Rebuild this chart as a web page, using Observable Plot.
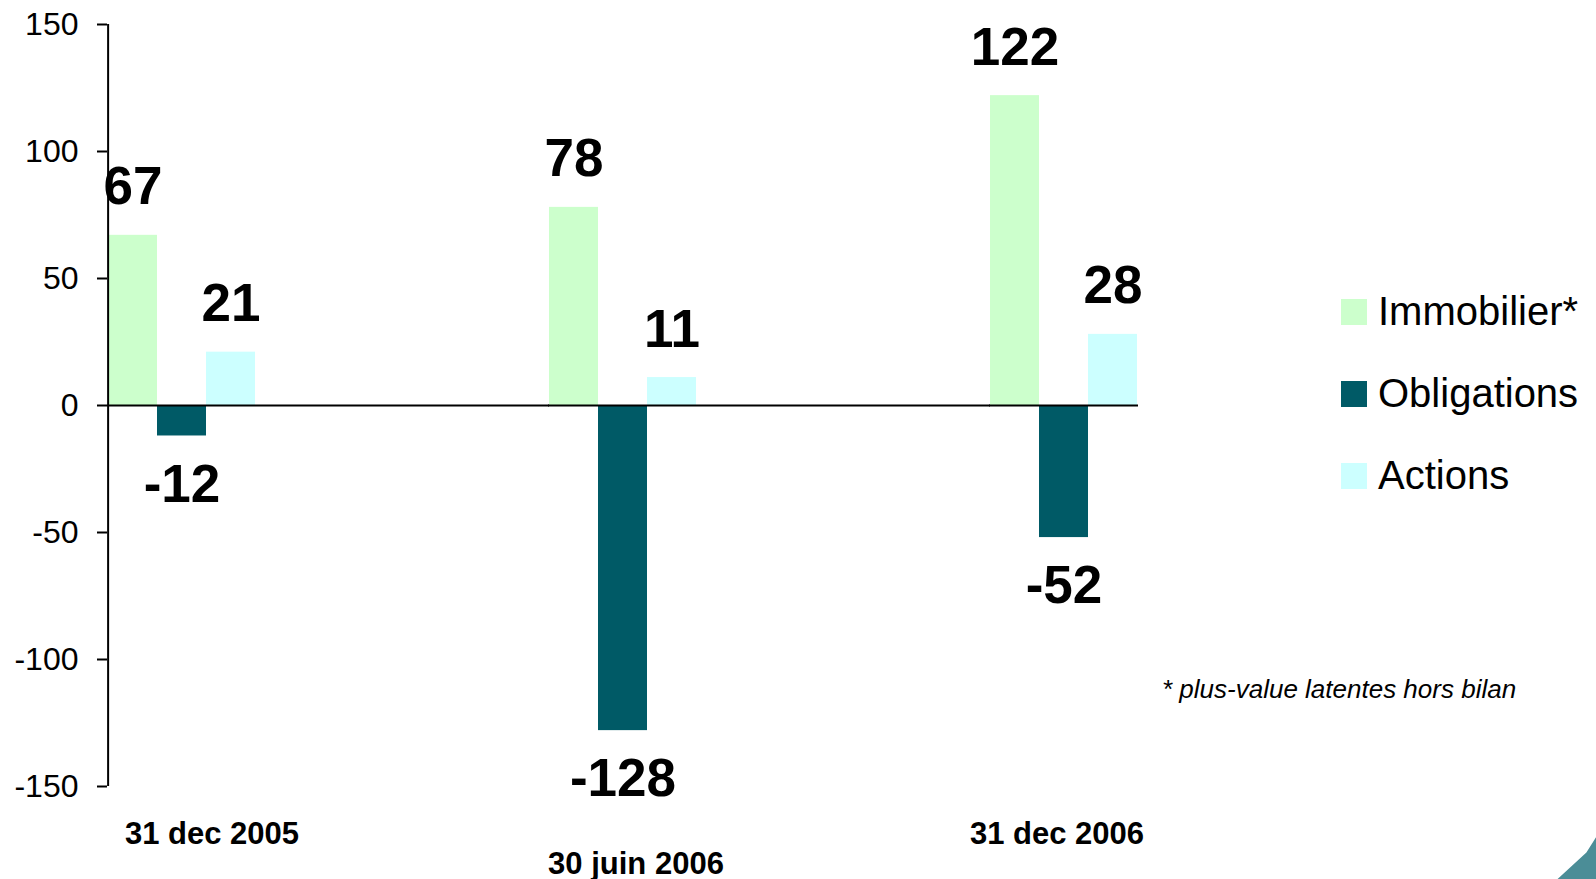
<!DOCTYPE html>
<html>
<head>
<meta charset="utf-8">
<script src="https://cdn.jsdelivr.net/npm/d3@7"></script>
<script src="https://cdn.jsdelivr.net/npm/@observablehq/plot@0.6"></script>
<style>
  html, body { margin: 0; padding: 0; background: #fff; }
  #wrap { position: relative; width: 1596px; height: 879px; overflow: hidden; font-family: "Liberation Sans", Arial, sans-serif; }
  #chart svg { display: block; }
  .leg-sq { position: absolute; width: 26px; height: 26px; }
  .leg-tx { position: absolute; font-size: 40px; line-height: 40px; color: #000; white-space: nowrap; }
  #note { position: absolute; left: 1162px; top: 676px; font-size: 26px; line-height: 26px; font-style: italic; color: #000; white-space: nowrap; }
  #corner { position: absolute; left: 1536px; top: 824px; width: 60px; height: 55px; background: #4B8D97;
            clip-path: polygon(100% 24%, 84% 52%, 36% 100%, 100% 100%); }
</style>
</head>
<body>
<div id="wrap">
  <div id="chart"></div>
  <div id="legend"></div>
  <div id="note">* plus-value latentes hors bilan</div>
  <div id="corner"></div>
</div>
<script>
// ---- data ----
const categories = ["31 dec 2005", "30 juin 2006", "31 dec 2006"];
const series = ["Immobilier*", "Obligations", "Actions"];
const immobilier = [67, 78, 122];
const obligations = [-12, -128, -52];
const actions = [21, 11, 28];
const yTicks = [-150, -100, -50, 0, 50, 100, 150];
const colors = ["#CCFFCC", "#005A66", "#CCFFFF"];

// ---- table built from the arrays ----
const seriesValues = [immobilier, obligations, actions];
const rows = [];
categories.forEach((cat, i) => {
  series.forEach((s, j) => rows.push({cat, series: s, value: seriesValues[j][i]}));
});
const pos = rows.filter(d => d.value >= 0);
const neg = rows.filter(d => d.value < 0);

// ---- layout ----
const W = 1596, H = 879, mL = 107, mR = 457, mT = 24, mB = 93;
const padIn = 0.6617;
const step = (W - mL - mR) / (categories.length - padIn);
const gap = step * padIn;
const barW = step * (1 - padIn) / series.length;

// per-category nudges of the date labels (layout only)
const nudge = {"31 dec 2005": [30, 57], "30 juin 2006": [13, 87], "31 dec 2006": [-7, 57]};
const catMarks = categories.map(c => Plot.text([c], {
  fx: d => d, text: d => d, frameAnchor: "bottom", lineAnchor: "bottom",
  dx: nudge[c][0], dy: nudge[c][1], fontSize: 31, fontWeight: "bold", fill: "#000"
}));

// zero line: continuous across the gaps between groups
const zeroInner = categories.slice(0, -1).map(c => ({cat: c, v: 0}));
const zeroLast = categories.slice(-1).map(c => ({cat: c, v: 0}));
// vertical axis line in the first group
const axisLine = [{cat: categories[0], s: series[0]}];

const chart = Plot.plot({
  width: W,
  height: H,
  marginLeft: mL,
  marginRight: mR,
  marginTop: mT,
  marginBottom: mB,
  style: {fontFamily: "'Liberation Sans', Arial, sans-serif", fontSize: "32px", color: "#000", background: "transparent", overflow: "visible"},
  fx: {domain: categories, paddingInner: padIn, paddingOuter: 0, axis: null, label: null},
  x: {domain: series, padding: 0, axis: null, label: null},
  y: {domain: [-150, 150], axis: null, label: null},
  color: {domain: series, range: colors},
  marks: [
    Plot.barY(rows, {fx: "cat", x: "series", y: "value", fill: "series"}),
    Plot.ruleY(zeroInner, {fx: "cat", y: "v", stroke: "#000", strokeWidth: 2, insetRight: -gap - 1}),
    Plot.ruleY(zeroLast, {fx: "cat", y: "v", stroke: "#000", strokeWidth: 2}),
    Plot.ruleX(axisLine, {fx: "cat", x: "s", y1: () => -150, y2: () => 150, dx: -barW / 2, stroke: "#000", strokeWidth: 2}),
    Plot.axisY({ticks: yTicks, tickSize: 10, tickPadding: 19, tickFormat: d => String(d), label: null,
                stroke: "#000", strokeWidth: 2, fill: "#000", fontSize: 32}),
    Plot.text(pos, {fx: "cat", x: "series", y: "value", text: d => String(d.value),
                    lineAnchor: "bottom", dy: -31, fontSize: 53, fontWeight: "bold", fill: "#000"}),
    Plot.text(neg, {fx: "cat", x: "series", y: "value", text: d => String(d.value),
                    lineAnchor: "top", dy: 28, fontSize: 53, fontWeight: "bold", fill: "#000"}),
    ...catMarks
  ]
});
document.getElementById("chart").appendChild(chart);

// ---- legend (right side) ----
const legend = document.getElementById("legend");
series.forEach((s, i) => {
  const top = 299 + 82 * i;
  const sq = document.createElement("div");
  sq.className = "leg-sq";
  sq.style.left = "1341px";
  sq.style.top = top + "px";
  sq.style.background = colors[i];
  legend.appendChild(sq);
  const tx = document.createElement("div");
  tx.className = "leg-tx";
  tx.style.left = "1378px";
  tx.style.top = (top - 8) + "px";
  tx.textContent = s;
  legend.appendChild(tx);
});
</script>
</body>
</html>
